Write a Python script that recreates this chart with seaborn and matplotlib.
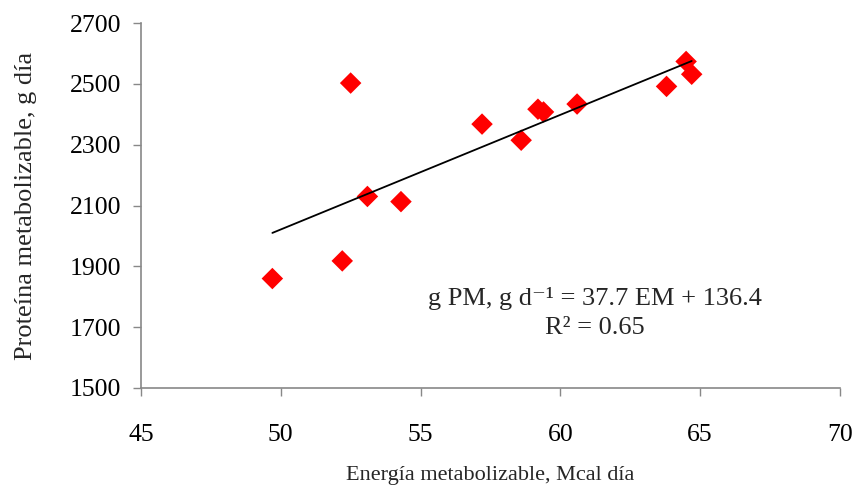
import numpy as np
import pandas as pd
import matplotlib
matplotlib.use("Agg")
import matplotlib.pyplot as plt
import seaborn as sns

# Data
energia = [49.7, 52.2, 52.5, 53.1, 54.3, 57.2, 58.6, 59.2, 59.4, 60.6, 63.8, 64.5, 64.7]
proteina = [1860, 1918, 2503, 2130, 2113, 2368, 2315, 2417, 2408, 2434, 2492, 2574, 2532]
slope = 37.7
intercept = 136.4
x_ticks = [45, 50, 55, 60, 65, 70]
y_ticks = [1500, 1700, 1900, 2100, 2300, 2500, 2700]

df = pd.DataFrame({"EM": energia, "PM": proteina})

sns.set_theme(style="white")
plt.rcParams["font.family"] = ["Liberation Serif", "DejaVu Serif"]
plt.rcParams["mathtext.fontset"] = "custom"
plt.rcParams["mathtext.rm"] = "Liberation Serif"
plt.rcParams["mathtext.default"] = "regular"

fig = plt.figure(figsize=(8.57, 4.93), dpi=100)
ax = fig.add_axes([0.1645, 0.213, 0.8155, 0.740])

sns.scatterplot(data=df, x="EM", y="PM", marker="D", color="#FF0000",
                edgecolor="none", s=120, ax=ax, zorder=2)

xl = np.array([min(energia), max(energia)])
ax.plot(xl, slope * xl + intercept, color="black", lw=1.3, zorder=3)

ax.set_xlim(45, 70)
ax.set_ylim(1500, 2700)
ax.set_xticks(x_ticks)
ax.set_yticks(y_ticks)
ax.tick_params(axis="both", labelsize=18.5, colors="black", length=6,
               width=1, direction="out", color="#888888",
               bottom=True, left=True)
ax.tick_params(axis="x", pad=20)
ax.tick_params(axis="y", pad=8)

for s in ["top", "right"]:
    ax.spines[s].set_visible(False)
for s in ["left", "bottom"]:
    ax.spines[s].set_color("#888888")
    ax.spines[s].set_linewidth(1.2)

ax.set_xlabel("Energía metabolizable, Mcal día", fontsize=16, labelpad=14)
ax.set_ylabel("Proteína metabolizable, g día", fontsize=19, labelpad=24)

ax.text(0.65, 0.245, "g PM, g d⁻¹ = 37.7 EM + 136.4", transform=ax.transAxes,
        ha="center", va="center", fontsize=19)
ax.text(0.65, 0.165, "R² = 0.65", transform=ax.transAxes,
        ha="center", va="center", fontsize=19)

fig.savefig("out.png", dpi=100)
